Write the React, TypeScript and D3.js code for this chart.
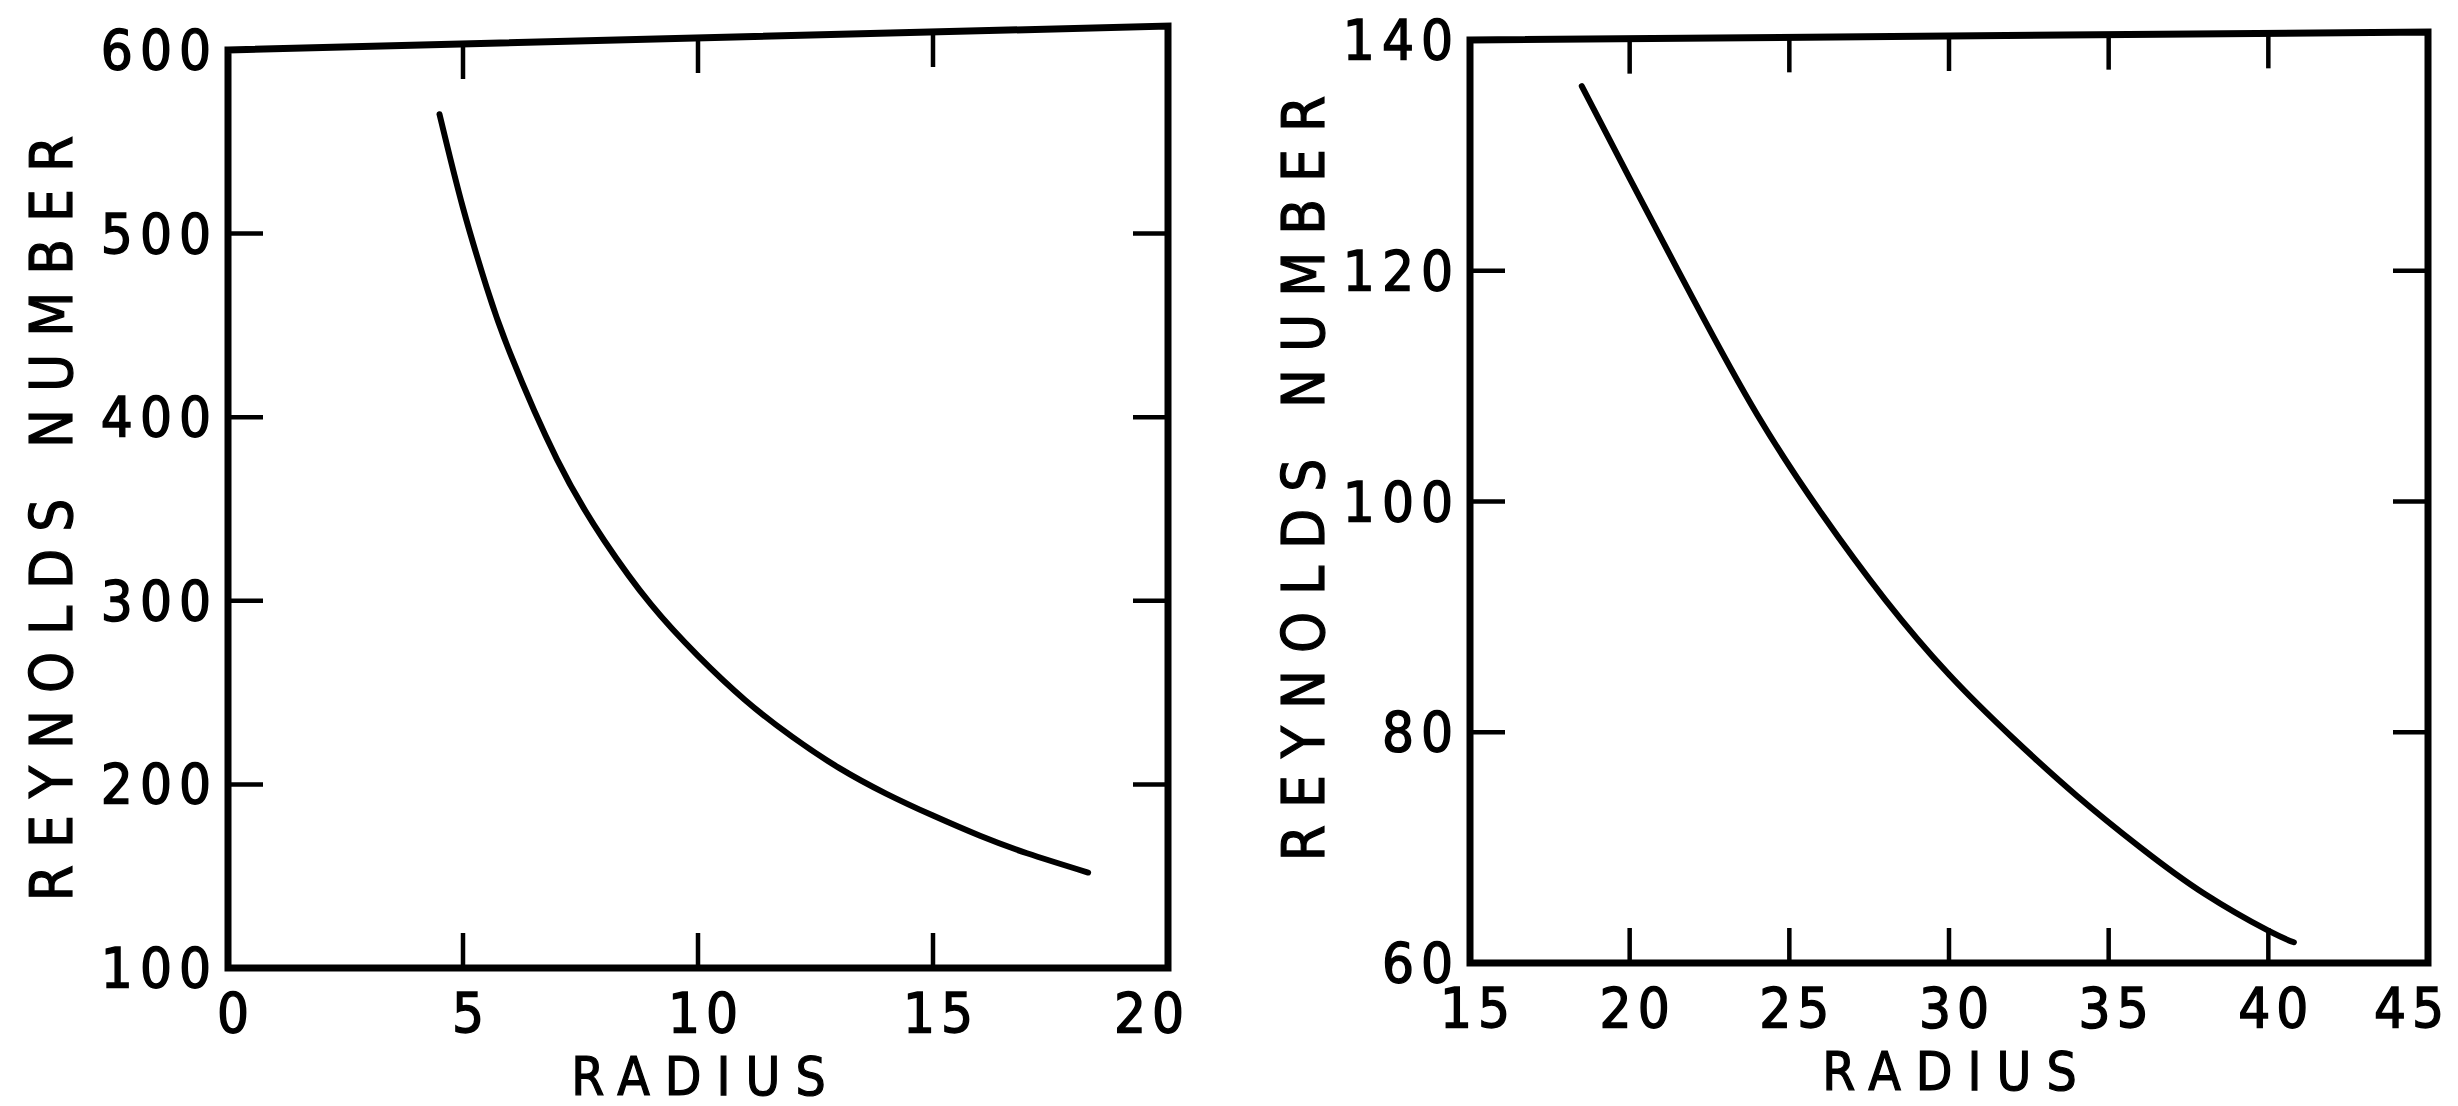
import React from "react";
import * as d3 from "d3";

const width = 2458;
const height = 1106;
const font = "'DejaVu Sans Condensed', 'DejaVu Sans', sans-serif";

// left panel: Reynolds number vs radius (small radii)
const radiusLeft = [4.5, 5, 5.5, 6, 7, 8, 9, 10, 11, 12, 13, 14, 15, 16, 17, 18.3];
const reynoldsLeft = [565, 514, 471, 435, 377, 333, 298, 270, 246, 226, 209, 195, 183, 172, 162.5, 152];
const xTicksLeft = [0, 5, 10, 15, 20];
const yTicksLeft = [100, 200, 300, 400, 500, 600];

// right panel: Reynolds number vs radius (large radii)
const radiusRight = [18.5, 20, 22, 24, 26, 28, 30, 32, 34, 36, 38, 40, 40.8];
const reynoldsRight = [136, 128, 117.5, 107.5, 99, 91.5, 85, 79.5, 74.5, 70, 66, 62.8, 61.8];
const xTicksRight = [15, 20, 25, 30, 35, 40, 45];
const yTicksRight = [60, 80, 100, 120, 140];

const tickLen = 35;
const ink = "#000";

const Panel = ({ radius, reynolds, xTicks, yTicks, xRange, yRange, skew, yTitleX, yTitleY }) => {
    const x = d3.scaleLinear().domain(d3.extent(xTicks)).range(xRange);
    const y = d3.scaleLinear().domain(d3.extent(yTicks)).range(yRange);
    const [left, right] = xRange;
    const [bottom, top] = yRange;
    // scanned frame: top edge drifts upward to the right
    const topAt = px => top - skew * (px - left) / (right - left);

    const line = d3.line()
        .x(d => x(d[0]))
        .y(d => y(d[1]))
        .curve(d3.curveNatural);
    const points = radius.map((r, i) => [r, reynolds[i]]);

    const frame = `M${left},${topAt(left)} L${right},${topAt(right)} L${right},${bottom} L${left},${bottom} Z`;
    const lastX = xTicks[xTicks.length - 1];

    return (
        <g>
            <path d={frame} fill="none" stroke={ink} strokeWidth={7} />
            {xTicks.slice(1, -1).map(t => (
                <g key={"x" + t}>
                    <line x1={x(t)} x2={x(t)} y1={bottom} y2={bottom - tickLen} stroke={ink} strokeWidth={4.5} />
                    <line x1={x(t)} x2={x(t)} y1={topAt(x(t))} y2={topAt(x(t)) + tickLen} stroke={ink} strokeWidth={4.5} />
                </g>
            ))}
            {yTicks.slice(1, -1).map(t => (
                <g key={"y" + t}>
                    <line x1={left} x2={left + tickLen} y1={y(t)} y2={y(t)} stroke={ink} strokeWidth={4.5} />
                    <line x1={right} x2={right - tickLen} y1={y(t)} y2={y(t)} stroke={ink} strokeWidth={4.5} />
                </g>
            ))}
            <g fontFamily={font} fontSize={56} fill={ink} stroke={ink} strokeWidth={1.4}>
                {xTicks.map(t => (
                    <text key={"xl" + t} x={t === lastX ? right + 22 : x(t) + 8}
                          y={bottom + 64} textAnchor={t === lastX ? "end" : "middle"}
                          letterSpacing={6}>{t}</text>
                ))}
                {yTicks.map(t => (
                    <text key={"yl" + t} x={left - 10} y={y(t) + 19} textAnchor="end"
                          letterSpacing={7}>{t}</text>
                ))}
            </g>
            <g fontFamily={font} fill={ink} stroke={ink} strokeWidth={1.2}>
                <text x={(left + right) / 2 + 8} y={bottom + 127} textAnchor="middle"
                      fontSize={53} letterSpacing={15}>RADIUS</text>
                <text transform={`translate(${yTitleX},${yTitleY}) rotate(-90)`} textAnchor="middle"
                      fontSize={58} letterSpacing={17}>REYNOLDS NUMBER</text>
            </g>
            <path d={line(points)} fill="none" stroke={ink} strokeWidth={6} strokeLinecap="round" />
        </g>
    );
};

export default function App() {
    return (
        <svg width={width} height={height} viewBox={`0 0 ${width} ${height}`}
             style={{ position: "absolute", left: 0, top: 0, background: "#fff" }}>
            <rect width={width} height={height} fill="#fff" />
            <Panel radius={radiusLeft} reynolds={reynoldsLeft}
                   xTicks={xTicksLeft} yTicks={yTicksLeft}
                   xRange={[228, 1168]} yRange={[968, 50]} skew={24}
                   yTitleX={72} yTitleY={510} />
            <Panel radius={radiusRight} reynolds={reynoldsRight}
                   xTicks={xTicksRight} yTicks={yTicksRight}
                   xRange={[1470, 2428]} yRange={[963, 40]} skew={8}
                   yTitleX={1324} yTitleY={470} />
        </svg>
    );
}
